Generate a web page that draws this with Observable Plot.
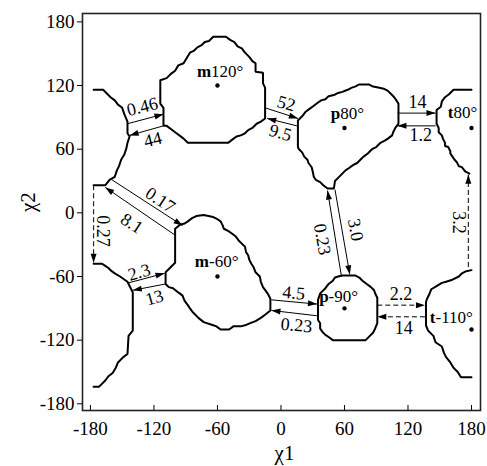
<!DOCTYPE html>
<html><head><meta charset="utf-8">
<script src="https://cdn.jsdelivr.net/npm/d3@7"></script>
<script src="https://cdn.jsdelivr.net/npm/@observablehq/plot@0.6"></script>
<style>body{margin:0;background:#fff;}</style>
</head><body><div id="chart"></div>
<script>
// ---------- data (degrees) ----------
const xTicks = [-180, -120, -60, 0, 60, 120, 180];
const yTicks = [-180, -120, -60, 0, 60, 120, 180];

// rotamer well boundaries [chi1, chi2]
const m120 = [[-114,125],[-108,127],[-104,131],[-100,134],[-97,139],[-92,141],[-89,146],[-86,151],[-82,153],[-79,156],[-75,158],[-72,161],[-68,162],[-64,166],[-52,166],[-48,163],[-44,161],[-41,157],[-37,155],[-34,151],[-30,147],[-27,143],[-24,141],[-24,133],[-17,132],[-17,122],[-15,118],[-15,89],[-19,86],[-23,84],[-27,80],[-31,78],[-34,75],[-38,73],[-42,72],[-46,69],[-50,66],[-88,66],[-92,70],[-96,73],[-100,76],[-104,79],[-108,82],[-111,82],[-111,99],[-114,103],[-114,125]];
const p80 = [[16,87],[20,91],[23,95],[27,98],[31,101],[35,104],[38,106],[42,107],[45,110],[50,111],[54,113],[58,114],[63,116],[67,118],[70,119],[74,121],[83,121],[87,119],[93,118],[97,117],[101,115],[104,112],[107,109],[109,106],[111,103],[111,84],[108,80],[106,76],[105,73],[101,70],[98,68],[94,66],[90,62],[86,60],[82,56],[78,53],[75,50],[72,47],[68,45],[64,42],[61,40],[57,36],[54,33],[51,30],[50,23],[44,23],[40,26],[37,29],[33,31],[31,34],[30,39],[29,43],[26,47],[25,50],[22,53],[20,57],[17,60],[16,62],[16,87]];
const mMinus60 = [[-100,-15],[-95,-11],[-91,-10],[-88,-8],[-84,-5],[-80,-3],[-73,-2],[-64,-4],[-60,-6],[-57,-8],[-55,-12],[-54,-15],[-50,-17],[-47,-19],[-43,-22],[-40,-26],[-37,-29],[-34,-32],[-33,-37],[-31,-40],[-30,-44],[-28,-48],[-26,-51],[-24,-56],[-20,-60],[-19,-65],[-17,-70],[-14,-74],[-12,-77],[-10,-81],[-10,-92],[-15,-96],[-19,-99],[-24,-102],[-29,-104],[-34,-106],[-38,-107],[-45,-107],[-49,-110],[-57,-110],[-61,-107],[-64,-106],[-73,-103],[-78,-99],[-83,-94],[-86,-90],[-88,-87],[-91,-83],[-93,-78],[-97,-75],[-102,-71],[-106,-70],[-109,-67],[-109,-56],[-104,-51],[-100,-47],[-100,-15]];
const pMinus90 = [[42,-71],[45,-67],[49,-64],[51,-61],[54,-60],[58,-59],[70,-59],[74,-61],[77,-64],[81,-67],[85,-70],[88,-73],[89,-76],[91,-80],[91,-104],[89,-109],[87,-113],[84,-116],[80,-120],[49,-120],[45,-117],[42,-115],[39,-112],[37,-109],[37,-104],[35,-101],[35,-82],[37,-76],[39,-74],[42,-71]];
const t80 = [[180,116],[163,116],[159,112],[155,109],[152,105],[151,100],[147,97],[147,84],[149,80],[149,76],[152,73],[153,70],[155,66],[155,63],[158,62],[160,58],[160,56],[162,53],[164,50],[166,48],[168,44],[171,43],[174,39],[178,37]];
const tMinus110 = [[180,-54],[175,-55],[171,-57],[168,-60],[162,-63],[156,-65],[152,-66],[147,-69],[142,-72],[140,-77],[138,-81],[137,-84],[137,-106],[139,-111],[144,-116],[146,-122],[152,-126],[154,-132],[156,-136],[160,-141],[163,-146],[167,-150],[170,-155],[180,-155]];
const tWrapUpper = [[-177,116],[-168,116],[-164,112],[-161,109],[-157,106],[-154,102],[-150,99],[-148,93],[-145,86],[-145,75],[-143,72],[-145,66],[-146,61],[-148,55],[-151,50],[-153,44],[-155,40],[-157,34],[-162,31],[-166,26],[-177,26]];
const tWrapLower = [[-177,-48],[-169,-48],[-166,-50],[-163,-52],[-160,-55],[-157,-57],[-152,-60],[-145,-65],[-143,-69],[-140,-75],[-140,-111],[-144,-116],[-145,-133],[-149,-136],[-154,-141],[-156,-146],[-159,-151],[-163,-154],[-166,-158],[-172,-164],[-177,-164]];

// rotamer centres
const stateLetter = ["m", "p", "m", "p", "t", "t"];
const stateAngle = ["120°", "80°", "-60°", "-90°", "80°", "-110°"];
const stateChi1 = [-60, 60, -60, 60, 180, 180];
const stateChi2 = [120, 80, -60, -90, 80, -110];
const stateLabelChi1 = [-66, 56, -68, 45, 163, 146];
const stateLabelChi2 = [133, 94, -46, -79, 95, -99];

// transitions (solid)
const solidFrom = [[-145,84],[-111,82],[-15,99],[15,82],[110,94],[146,82],[-161,32],[-100,-21],[-144,-66],[-109,-67],[-9,-82],[34,-97],[57,-59],[51,22]];
const solidTo   = [[-111,93],[-143,73],[16,89],[-13,89],[146,94],[110,82],[-93,-12],[-166,24],[-110,-57],[-140,-73],[34,-86],[-9,-92],[44,21],[65,-58]];
// transitions (dashed)
const dashFrom = [[91,-87],[136,-98],[-177,26],[177,-51]];
const dashTo   = [[136,-87],[91,-98],[-177,-47],[177,36]];

// rate labels
const rateText  = ["0.46","44","52","9.5","14","1.2","0.17","8.1","2.3","13","4.5","0.23","0.23","3.0","2.2","14","0.27","3.2"];
const rateChi1  = [-131,-121,5,-0.5,129,132,-114,-141,-134,-119.5,12,14.6,39,70.4,113.4,116,-168.7,167.7];
const rateChi2  = [100,69,103,75.5,104,73,12,-10,-56,-80,-75.5,-106,-25,-16,-76.4,-108.5,-17,-9];
const rateAngle = [-14,-14,16,16,0,0,33,33,-16,-16,5,5,80,80,0,0,90,90];

// ---------- build ----------
const regions = [m120, p80, mMinus60, pMinus90, t80, tMinus110, tWrapUpper, tWrapLower];
const states = stateLetter.map((l, i) => ({l, a: stateAngle[i], x: stateChi1[i], y: stateChi2[i], lx: stateLabelChi1[i], ly: stateLabelChi2[i]}));
const solid = solidFrom.map((f, i) => ({x1: f[0], y1: f[1], x2: solidTo[i][0], y2: solidTo[i][1]}));
const dashed = dashFrom.map((f, i) => ({x1: f[0], y1: f[1], x2: dashTo[i][0], y2: dashTo[i][1]}));
const rates = rateText.map((t, i) => ({t, x: rateChi1[i], y: rateChi2[i], r: rateAngle[i]}));

const fmt = d => String(d);
const chart = Plot.plot({
  width: 487, height: 466,
  marginLeft: 82, marginRight: 7, marginTop: 13, marginBottom: 56,
  x: {domain: [-187.5, 188.5]},
  y: {domain: [-186.3, 187.9]},
  style: {fontFamily: "Liberation Serif", fontSize: "19px", color: "black", background: "white"},
  marks: [
    Plot.frame({stroke: "#222", strokeWidth: 1.6}),
    Plot.axisX({ticks: xTicks, tickSize: 0, tickPadding: 11, label: null, tickFormat: fmt}),
    Plot.axisX({ticks: xTicks, tickSize: 5, dy: -5, fill: "none", label: null}),
    Plot.axisY({ticks: yTicks, tickSize: 5, tickPadding: 3, label: null, tickFormat: fmt}),
    ...regions.map(r => Plot.line(r, {x: d => d[0], y: d => d[1], stroke: "black", strokeWidth: 2, strokeLinejoin: "miter"})),
    Plot.link(solid, {x1: "x1", y1: "y1", x2: "x2", y2: "y2", stroke: "black", strokeWidth: 1, markerEnd: "arrow"}),
    Plot.link(dashed, {x1: "x1", y1: "y1", x2: "x2", y2: "y2", stroke: "black", strokeWidth: 1, strokeDasharray: "5,3", markerEnd: "arrow"}),
    Plot.dot(states, {x: "x", y: "y", r: 2.2, fill: "black", stroke: null}),
    Plot.text(states, {x: "lx", y: "ly", text: "l", textAnchor: "end", fontWeight: "bold", fontSize: 17}),
    Plot.text(states, {x: "lx", y: "ly", text: "a", textAnchor: "start", fontSize: 17}),
    Plot.text(rates, {x: "x", y: "y", text: "t", rotate: "r", fontSize: 18}),
    Plot.text(["χ1"], {text: d => d, frameAnchor: "bottom", dy: 49, dx: 3, fontSize: 21}),
    Plot.text(["χ2"], {text: d => d, frameAnchor: "left", dx: -54, rotate: -90, fontSize: 21})
  ]
});

// filled arrowheads
chart.querySelectorAll("marker").forEach(m => {
  m.setAttribute("viewBox", "-10 -5 10 10");
  m.setAttribute("markerWidth", "10");
  m.setAttribute("markerHeight", "10");
  m.setAttribute("markerUnits", "userSpaceOnUse");
  m.setAttribute("refX", "0");
  m.setAttribute("refY", "0");
  m.setAttribute("fill", "black");
  m.setAttribute("stroke", "none");
  while (m.firstChild) m.removeChild(m.firstChild);
  const p = document.createElementNS("http://www.w3.org/2000/svg", "path");
  p.setAttribute("d", "M-9,-3L0,0L-9,3Z");
  m.appendChild(p);
});
document.getElementById("chart").appendChild(chart);
</script>
</body></html>
